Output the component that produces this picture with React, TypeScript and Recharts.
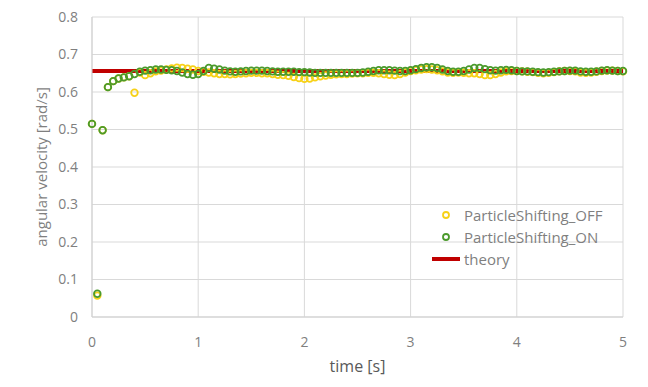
import { ComposedChart, Scatter, Line, XAxis, YAxis, CartesianGrid } from "recharts";

const times = [
  0.0, 0.05, 0.1, 0.15, 0.2, 0.25, 0.3, 0.35, 0.4, 0.45,
  0.5, 0.55, 0.6, 0.65, 0.7, 0.75, 0.8, 0.85, 0.9, 0.95,
  1.0, 1.05, 1.1, 1.15, 1.2, 1.25, 1.3, 1.35, 1.4, 1.45,
  1.5, 1.55, 1.6, 1.65, 1.7, 1.75, 1.8, 1.85, 1.9, 1.95,
  2.0, 2.05, 2.1, 2.15, 2.2, 2.25, 2.3, 2.35, 2.4, 2.45,
  2.5, 2.55, 2.6, 2.65, 2.7, 2.75, 2.8, 2.85, 2.9, 2.95,
  3.0, 3.05, 3.1, 3.15, 3.2, 3.25, 3.3, 3.35, 3.4, 3.45,
  3.5, 3.55, 3.6, 3.65, 3.7, 3.75, 3.8, 3.85, 3.9, 3.95,
  4.0, 4.05, 4.1, 4.15, 4.2, 4.25, 4.3, 4.35, 4.4, 4.45,
  4.5, 4.55, 4.6, 4.65, 4.7, 4.75, 4.8, 4.85, 4.9, 4.95,
  5.0,
];

// ParticleShifting_OFF
const offValues = [
  0.515, 0.057, 0.498, 0.613, 0.629, 0.636, 0.639, 0.642, 0.598, 0.652,
  0.645, 0.65, 0.655, 0.657, 0.66, 0.663, 0.665, 0.664, 0.662, 0.66,
  0.656, 0.654, 0.652, 0.65, 0.648, 0.648, 0.647, 0.648, 0.649, 0.65,
  0.651, 0.651, 0.65, 0.65, 0.648, 0.646, 0.645, 0.643, 0.64, 0.637,
  0.635, 0.636, 0.639, 0.642, 0.644, 0.646, 0.647, 0.648, 0.648, 0.649,
  0.65, 0.65, 0.651, 0.651, 0.65, 0.648, 0.646, 0.645, 0.648, 0.652,
  0.656, 0.658, 0.66, 0.661, 0.66, 0.658, 0.655, 0.652, 0.651, 0.652,
  0.651, 0.65, 0.65, 0.648, 0.645, 0.645, 0.648, 0.652, 0.655, 0.656,
  0.656, 0.655, 0.654, 0.653, 0.651, 0.65, 0.651, 0.653, 0.655, 0.656,
  0.656, 0.655, 0.652, 0.651, 0.652, 0.654, 0.656, 0.657, 0.657, 0.656,
  0.655,
];

// ParticleShifting_ON
const onValues = [
  0.515, 0.062, 0.498, 0.613, 0.629, 0.636, 0.639, 0.642, 0.648, 0.654,
  0.657, 0.658, 0.66, 0.66, 0.659, 0.658, 0.656, 0.652, 0.648, 0.646,
  0.648, 0.656, 0.664, 0.662, 0.66, 0.657, 0.655, 0.654, 0.655, 0.656,
  0.657, 0.657, 0.657, 0.656, 0.655, 0.654, 0.654, 0.654, 0.654, 0.653,
  0.653, 0.652, 0.651, 0.651, 0.651, 0.651, 0.651, 0.651, 0.651, 0.651,
  0.651, 0.652, 0.654, 0.656, 0.658, 0.658, 0.658, 0.657, 0.656, 0.656,
  0.658, 0.661, 0.664, 0.666, 0.666, 0.664, 0.66, 0.656, 0.654, 0.654,
  0.656, 0.66, 0.664, 0.664, 0.661, 0.658, 0.657, 0.658, 0.659, 0.658,
  0.656, 0.655, 0.655, 0.654, 0.653, 0.652, 0.653, 0.654, 0.655, 0.656,
  0.657, 0.657, 0.655, 0.654, 0.654, 0.655, 0.657, 0.658, 0.657, 0.656,
  0.656,
];

const theoryTimes = [0, 5];
const theoryValue = 0.656;

const xTicks = [0, 1, 2, 3, 4, 5];
const yTicks = [0, 0.1, 0.2, 0.3, 0.4, 0.5, 0.6, 0.7, 0.8];

const OFF_COLOR = "#f7d117";
const ON_COLOR = "#4b9a2c";
const THEORY_COLOR = "#c00000";
const FONT = "'Open Sans', 'Noto Sans', sans-serif";

const offData = times.map((t, i) => ({ t, v: offValues[i] }));
const onData = times.map((t, i) => ({ t, v: onValues[i] }));
const theoryData = theoryTimes.map((t) => ({ t, v: theoryValue }));

const ringShape = (color: string) => (props: any) => (
  <circle cx={props.cx} cy={props.cy} r={3.3} fill="none" stroke={color} strokeWidth={1.8} />
);

function ChartLegend() {
  const items = [
    { label: "ParticleShifting_OFF", color: OFF_COLOR, kind: "ring" },
    { label: "ParticleShifting_ON", color: ON_COLOR, kind: "ring" },
    { label: "theory", color: THEORY_COLOR, kind: "line" },
  ];
  return (
    <div style={{ position: "absolute", left: 432, top: 204, fontFamily: FONT, fontSize: 15, color: "#7f7f7f" }}>
      {items.map((it) => (
        <div key={it.label} style={{ display: "flex", alignItems: "center", height: 22 }}>
          <svg width={31} height={12} style={{ marginRight: 1 }}>
            {it.kind === "ring" ? (
              <circle cx={14} cy={6} r={3} fill="none" stroke={it.color} strokeWidth={1.8} />
            ) : (
              <line x1={0} y1={6} x2={28} y2={6} stroke={it.color} strokeWidth={4} />
            )}
          </svg>
          <span>{it.label}</span>
        </div>
      ))}
    </div>
  );
}

export default function App() {
  return (
    <div style={{ position: "absolute", left: 0, top: 0, width: 648, height: 387, background: "#fff" }}>
      <ComposedChart width={648} height={387} margin={{ top: 17, right: 25, bottom: 40, left: 0 }}>
        <CartesianGrid stroke="#d9d9d9" strokeWidth={1} />
        <XAxis
          type="number"
          dataKey="t"
          domain={[0, 5]}
          ticks={xTicks}
          tickLine={false}
          axisLine={{ stroke: "#d0d0d0" }}
          tick={{ fontSize: 14, fill: "#7f7f7f", fontFamily: FONT }}
          tickMargin={14}
          label={{ value: "time [s]", position: "insideBottom", offset: -25, fontSize: 16, fill: "#595959", fontFamily: FONT }}
        />
        <YAxis
          type="number"
          dataKey="v"
          domain={[0, 0.8]}
          ticks={yTicks}
          width={92}
          tickLine={false}
          axisLine={{ stroke: "#d0d0d0" }}
          tick={{ fontSize: 14, fill: "#7f7f7f", fontFamily: FONT }}
          tickMargin={8}
          label={{ value: "angular velocity [rad/s]", angle: -90, position: "center", dx: -4, fontSize: 15, fill: "#7f7f7f", fontFamily: FONT }}
        />
        <Line
          data={theoryData}
          dataKey="v"
          stroke={THEORY_COLOR}
          strokeWidth={4}
          dot={false}
          isAnimationActive={false}
          legendType="none"
        />
        <Scatter data={offData} dataKey="v" shape={ringShape(OFF_COLOR)} isAnimationActive={false} />
        <Scatter data={onData} dataKey="v" shape={ringShape(ON_COLOR)} isAnimationActive={false} />
      </ComposedChart>
      <ChartLegend />
    </div>
  );
}
